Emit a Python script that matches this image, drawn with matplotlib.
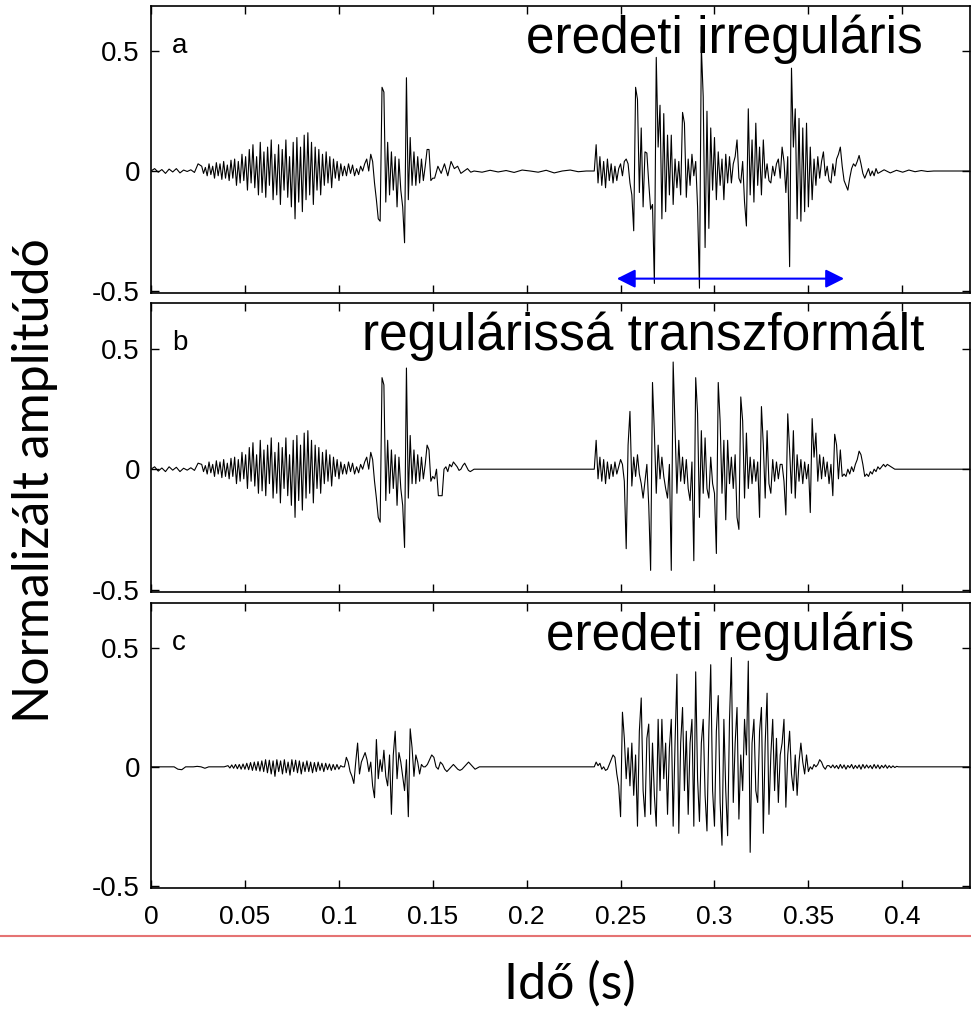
import numpy as np
import matplotlib
matplotlib.use("Agg")
import matplotlib.pyplot as plt
from matplotlib.lines import Line2D

# ---- waveform values (amplitude per piece, evenly spaced in time) ----
a_lead = [0.0, 0.01, -0.005, 0.006, -0.01, 0.008, -0.004, 0.01, -0.008, 0.004, -0.002, 0.005, -0.006, 0.03]

# fricative part, same in a and b
fric_ab = [0.02, -0.01, 0.015, -0.02, 0.03, -0.015, 0.02, -0.03, 0.035, -0.02, 0.03, -0.035, 0.04, -0.03, 0.025, -0.04, 0.045, -0.03,
           0.05, -0.06, 0.04, -0.05, 0.07, -0.04, 0.06, -0.08, 0.09, -0.05, 0.11, -0.07, 0.06, -0.1, 0.12, -0.09, 0.08, -0.11, 0.1, -0.06,
           0.13, -0.12, 0.07, -0.1, 0.11, -0.14, 0.09, -0.08, 0.13, -0.11, 0.06, -0.15, 0.12, -0.2, 0.14, -0.13, 0.1, -0.17, 0.15, -0.12,
           0.16, -0.1, 0.12, -0.14, 0.1, -0.08,
           0.09, -0.1, 0.07, -0.06, 0.08, -0.05, 0.06, -0.07, 0.05, -0.03, 0.04, -0.04, 0.03, -0.02]
gap_ab = [0.02, -0.02, 0.03, -0.01, 0.025, -0.02, 0.01, -0.015, 0.02, 0.0, 0.03, 0.05, 0.0]

a_burst = [0.07, 0.04, -0.05, -0.12, -0.2, -0.21, 0.35, 0.33, -0.13, 0.12, -0.1, 0.08, -0.08, 0.06, -0.15, 0.05, -0.08,
           -0.15, -0.30, 0.39, -0.12, 0.14, -0.06, 0.08, -0.06, 0.06, -0.05, 0.05, -0.04, 0.02, 0.09, 0.09, -0.04, -0.03]
a_tail = [-0.03, 0.02, -0.01, 0.03, -0.02, 0.04, 0.01, 0.02, -0.01, 0.0, 0.01, -0.005]
a_flat = [0, -0.005, 0.003, -0.004, 0.002, -0.006, 0.004, 0.0, -0.005, 0.003, -0.008, 0.0, 0.004, -0.003, 0.0]
a_voiced = [0.0, 0.11, -0.05, 0.06, -0.06, 0.04, -0.07, 0.05, -0.04, 0.03,
            -0.05, 0.02, -0.04, 0.01, 0.03, -0.02, 0.04, 0.05, 0.03, -0.05,
            -0.1, -0.25, 0.35, 0.3, -0.09, 0.18, -0.15, 0.08, 0.075, -0.05,
            -0.16, -0.14, -0.47, 0.475, 0.1, 0.275, -0.2, 0.24, -0.17, 0.15,
            -0.1, 0.15, -0.14, 0.05, -0.07, 0.04, -0.1, 0.245, 0.2, -0.11,
            0.05, -0.06, 0.07, -0.02, 0.04, -0.15, -0.49, 0.52, 0.31, -0.32,
            0.25, -0.24, 0.18, -0.08, 0.14, -0.12, 0.08, -0.06, 0.05, -0.12,
            0.07, -0.05, 0.06, -0.05, 0.03, 0.06, 0.13, -0.03, -0.05, 0.04,
            -0.13, -0.23, 0.26, -0.1, 0.13, -0.13, 0.2, -0.06, 0.1, -0.1,
            0.13, -0.03, 0.03, -0.04, -0.05, 0.02, -0.02, 0.03, 0.05, -0.03,
            0.1, 0.04, -0.09, 0.06, -0.4, 0.43, 0.1, 0.26, -0.2, 0.22,
            -0.21, 0.18, -0.17, 0.2, -0.15, 0.1, -0.12, 0.05, -0.06, 0.06,
            -0.03, 0.04, 0.08, -0.02, 0.02, -0.04, -0.05, 0.03, -0.02, 0.05,
            0.07, 0.1, 0.02, -0.04, -0.06, -0.08, -0.03, 0.01, 0.03, 0.02,
            0.04, 0.065, 0.03, -0.01, -0.03, -0.01, 0.01, -0.02, 0.0, -0.02, 0.01]
a_decay = [-0.01, 0.005, -0.008, 0.003, -0.005, 0.004, -0.003, 0.002, -0.002, 0.0]

b_lead = [0.0, 0.01, -0.008, 0.005, -0.01, 0.01, -0.004, 0.008, -0.01, 0.004, -0.004, 0.006, -0.005, 0.025]
b_burst = [0.07, 0.04, -0.05, -0.12, -0.2, -0.22, 0.38, 0.35, -0.13, 0.12, -0.1, 0.08, -0.08, 0.06, -0.15, 0.05, -0.08,
           -0.15, -0.325, 0.42, -0.12, 0.14, -0.06, 0.08, -0.06, 0.06, -0.05, 0.05, -0.04, 0.02, 0.1, 0.08, -0.05, -0.03]
b_tail = [-0.04, 0.0, -0.11, -0.11, -0.11, 0.0, 0.01, -0.01, 0.02, 0.01, 0.03, 0.02, 0.01, -0.005, 0.0, 0.015,
          0.025, 0.01, -0.005, -0.01, -0.005, 0.0]
b_voiced = [0.0, 0.12, -0.04, 0.05, -0.05, 0.04, -0.06, 0.03, -0.04, 0.02,
            -0.03, 0.03, -0.02, 0.01, 0.04, 0.02, -0.05, -0.33, 0.1, 0.24,
            -0.07, 0.05, -0.03, 0.06, -0.02, -0.06, -0.12, -0.05, 0.02, -0.15,
            -0.42, 0.36, 0.15, -0.1, 0.1, -0.04, 0.05, -0.03, -0.08, -0.12,
            0.02, -0.42, 0.445, 0.18, -0.1, 0.12, -0.05, 0.05, -0.06, 0.04,
            -0.08, -0.13, 0.03, -0.38, 0.38, 0.23, -0.2, 0.16, -0.1, 0.13,
            -0.08, -0.12, 0.05, -0.06, -0.1, -0.35, 0.36, 0.2, -0.1, 0.12,
            -0.21, 0.12, -0.06, 0.05, -0.08, 0.06, -0.2, -0.25, 0.3, 0.2,
            -0.12, 0.15, -0.08, 0.05, -0.06, 0.04, -0.05, 0.03, -0.2, 0.26,
            0.1, -0.12, 0.16, -0.06, -0.1, 0.04, -0.05, 0.03, -0.04, 0.02,
            0.02, -0.05, -0.19, 0.23, 0.08, -0.1, 0.16, -0.12, 0.06, -0.05,
            0.04, -0.06, 0.03, -0.04, 0.02, -0.18, 0.21, 0.05, 0.15, -0.05,
            0.06, -0.04, 0.05, -0.03, 0.03, -0.06, 0.02, -0.11, 0.145, 0.1,
            -0.04, 0.08, -0.03, -0.02, -0.03, 0.0, -0.02, 0.01, -0.01, 0.02,
            0.04, 0.075, 0.06, 0.02, -0.03, -0.02, -0.03, -0.01, -0.02, 0.0,
            -0.01, 0.01, 0.0, 0.01, 0.02, 0.01, 0.02, 0.015, 0.01, 0.005, 0.0]

c_lead = [0, 0, 0, 0, 0, 0, 0, -0.01, -0.012, 0.0, 0.0, 0.0, 0.002, 0.0, -0.006, 0.0, 0.0, 0.0, 0.0, 0.0]
c_fric = [0.005, -0.005, 0.008, -0.006, 0.01, -0.008, 0.01, -0.01, 0.012, -0.01, 0.015, -0.012, 0.018, -0.015, 0.02, -0.015,
          0.022, -0.018, 0.025, -0.02, 0.03, -0.025, 0.028, -0.03, 0.025, -0.04, 0.03, -0.02, 0.025, -0.03, 0.03, -0.025,
          0.02, -0.035, 0.03, -0.02, 0.028, -0.025, 0.025, -0.03, 0.02, -0.02, 0.025, -0.02, 0.02, -0.025, 0.018, -0.02,
          0.02, -0.015, 0.015, -0.02, 0.015, -0.012, 0.012, -0.015, 0.01, -0.012, 0.01, -0.01, 0.005, 0.0]
c_burst = [0.0, 0.04, 0.02, -0.02, -0.04, -0.07, 0.02, 0.1, -0.03, 0.02, 0.04, 0.06, 0.03, -0.02, 0.02, -0.08, -0.13,
           0.115, -0.05, 0.03, -0.02, 0.07, -0.04, -0.08, 0.05, -0.2, 0.05, 0.15, -0.05, 0.06, 0.02, -0.04, -0.1, 0.03,
           -0.21, 0.16, 0.08, -0.04, 0.05, 0.02, -0.03, 0.01, 0.0]
c_tail = [0.0, 0.01, 0.03, 0.05, 0.04, 0.0, -0.01, 0.02, 0.01, -0.01, -0.02, -0.01, 0.0, 0.01, 0.0, -0.01, -0.015,
          -0.01, 0.0, 0.01, 0.02, 0.01, 0.0, -0.01, -0.005, 0.0]
c_voiced = [0.0, 0.02, 0.005, 0.015, -0.01, 0.0, -0.015, -0.01, 0.01, 0.03,
            0.05, 0.04, -0.03, -0.08, -0.21, 0.23,
            0.12, -0.05, 0.08, -0.08, 0.1, -0.12, 0.05, -0.25, 0.15, 0.29,
            -0.1, -0.21, 0.12, 0.18, -0.2, 0.1, -0.12, -0.25, 0.2, -0.1,
            0.2, -0.05, 0.1, -0.2, 0.08, 0.2, -0.25, 0.1, 0.39, -0.28,
            0.1, 0.25, -0.1, 0.15, -0.2, 0.1, 0.2, -0.25, 0.4, -0.05,
            -0.23, 0.1, 0.2, -0.12, -0.27, 0.15, 0.43, -0.1, -0.25, 0.15,
            0.3, -0.15, -0.33, 0.2, -0.1, -0.29, 0.2, 0.46, -0.15, 0.1,
            0.25, -0.22, 0.05, -0.1, 0.2, 0.05, 0.445, -0.36, 0.1, 0.2,
            -0.1, -0.15, 0.15, 0.25, -0.28, 0.1, 0.31, -0.2, 0.05, 0.2,
            -0.1, 0.12, -0.15, 0.05, 0.1, 0.2, -0.17, 0.05, 0.15, -0.03,
            -0.1, 0.05, -0.12, 0.02, 0.1, 0.02, -0.03, 0.05, -0.02, 0.0,
            -0.01, 0.01, 0.0, 0.01, 0.03, 0.02, 0.0, -0.01, 0.005]
c_fuzz = [0.005, -0.004, 0.008, -0.005, 0.006, -0.008, 0.01, -0.006, 0.008, -0.01, 0.006, -0.004, 0.01, -0.008, 0.006,
          -0.006, 0.008, -0.01, 0.01, -0.006, 0.008, -0.005, 0.006, -0.008, 0.01, -0.006, 0.008, -0.008, 0.006, -0.004,
          0.008, -0.006, 0.005, -0.004, 0.004, -0.003, 0.002, 0.0]

# time spans of the pieces (s)
panels = [
    [(0.0, 0.027, a_lead), (0.027, 0.103, fric_ab), (0.103, 0.117, gap_ab), (0.117, 0.151, a_burst),
     (0.151, 0.172, a_tail), (0.172, 0.236, a_flat), (0.236, 0.387, a_voiced), (0.387, 0.42, a_decay),
     (0.42, 0.436, [0.0]), (0.436, 0.437, [0.0])],
    [(0.0, 0.027, b_lead), (0.027, 0.103, fric_ab), (0.103, 0.117, gap_ab), (0.117, 0.151, b_burst),
     (0.151, 0.173, b_tail), (0.173, 0.236, [0.0]), (0.236, 0.397, b_voiced), (0.397, 0.436, [0.0]),
     (0.436, 0.437, [0.0])],
    [(0.0, 0.041, c_lead), (0.041, 0.103, c_fric), (0.103, 0.146, c_burst), (0.146, 0.176, c_tail),
     (0.176, 0.236, [0.0]), (0.236, 0.361, c_voiced), (0.361, 0.399, c_fuzz), (0.399, 0.436, [0.0]),
     (0.436, 0.437, [0.0])],
]
titles = ["eredeti irreguláris", "regulárissá transzformált", "eredeti reguláris"]
title_x = [0.6996, 0.6007, 0.707]
letters = ["a", "b", "c"]
xticks = [0, 0.05, 0.1, 0.15, 0.2, 0.25, 0.3, 0.35, 0.4]
xticklabels = ["0", "0.05", "0.1", "0.15", "0.2", "0.25", "0.3", "0.35", "0.4"]
yticks = [-0.5, 0, 0.5]
yticklabels = ["-0.5", "0", "0.5"]


def build(pieces):
    ts, ys = [], []
    for t0, t1, vals in pieces:
        ts.append(np.linspace(t0, t1, len(vals), endpoint=False))
        ys.append(np.asarray(vals, dtype=float))
    return np.concatenate(ts), np.concatenate(ys)


plt.rcParams["font.family"] = ["Liberation Sans", "DejaVu Sans"]

fig = plt.figure(figsize=(9.71, 10.11), dpi=100)
boxes = [[0.1555, 0.7102, 0.8434, 0.2839], [0.1555, 0.4144, 0.8434, 0.2859], [0.1555, 0.1217, 0.8434, 0.2819]]

axes = []
for i, box in enumerate(boxes):
    ax = fig.add_axes(box)
    t, y = build(panels[i])
    ax.plot(t, y, color="black", lw=0.8)
    ax.set_xlim(0, 0.436)
    ax.set_ylim(-0.51, 0.69)
    ax.set_xticks(xticks)
    ax.set_yticks(yticks)
    ax.set_yticklabels(yticklabels, fontsize=20)
    if i == 2:
        ax.set_xticklabels(xticklabels, fontsize=19)
    else:
        ax.set_xticklabels([])
    ax.tick_params(direction="in", top=True, right=True, length=6, width=1, pad=8)
    ax.tick_params(axis="x", pad=12)
    for s in ax.spines.values():
        s.set_linewidth(1.2)
    ax.text(0.026, 0.836, letters[i], transform=ax.transAxes, fontsize=20, va="baseline")
    ax.text(title_x[i], 0.836, titles[i], transform=ax.transAxes, fontsize=37, ha="center", va="baseline")
    axes.append(ax)

# blue double arrow in panel a
axes[0].annotate("", xy=(0.369, -0.45), xytext=(0.248, -0.45),
                 arrowprops=dict(arrowstyle="<|-|>", color="blue", lw=1.5, mutation_scale=28, shrinkA=0, shrinkB=0))

fig.text(0.036, 0.525, "Normalizált amplitúdó", rotation=90, ha="center", va="center", fontsize=36, family="Lato")
fig.text(0.587, 0.026, "Idő (s)", ha="center", va="center", fontsize=36, family="Lato")
fig.add_artist(Line2D([0, 1], [1 - 936 / 1011] * 2, color="#e57373", lw=1.5, transform=fig.transFigure))

fig.savefig("out.png", dpi=100)
